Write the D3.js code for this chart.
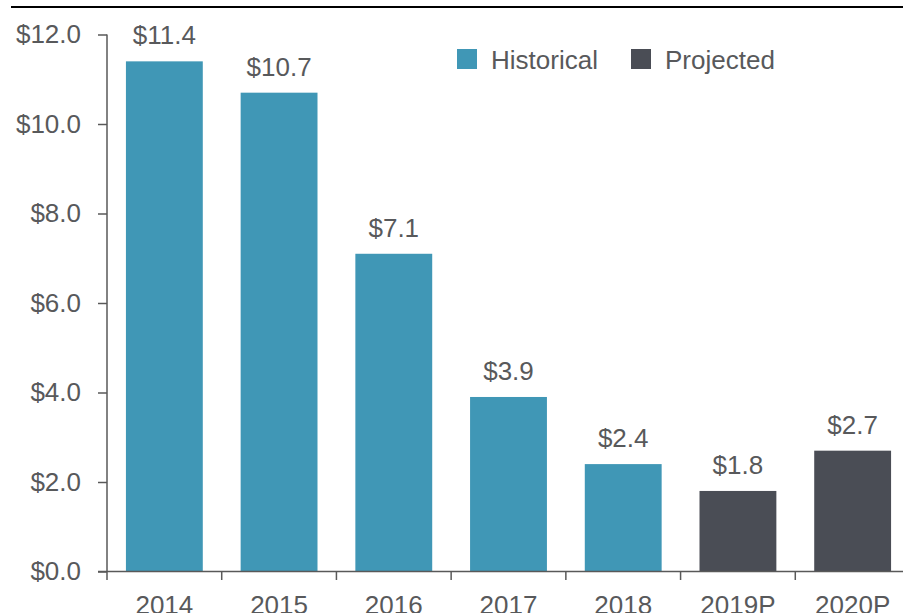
<!DOCTYPE html>
<html>
<head>
<meta charset="utf-8">
<script src="https://cdn.jsdelivr.net/npm/d3@7"></script>
<style>
  html, body { margin: 0; padding: 0; background: #fff; }
  svg { display: block; }
  text { font-family: "Liberation Sans", Arial, sans-serif; fill: #58595b; }
</style>
</head>
<body>
<div id="chart"></div>
<script>
// data
var years = ['2014', '2015', '2016', '2017', '2018', '2019P', '2020P'];
var values = [11.4, 10.7, 7.1, 3.9, 2.4, 1.8, 2.7];
var kinds = ['Historical', 'Historical', 'Historical', 'Historical', 'Historical', 'Projected', 'Projected'];
var yTicks = [0, 2, 4, 6, 8, 10, 12];
var legendItems = ['Historical', 'Projected'];

var W = 903, H = 613,
    FONT = 26,
    AXIS = '#595959',
    colors = { Historical: '#4097b6', Projected: '#4a4d55' };

var svg = d3.select('#chart').append('svg')
  .attr('width', W)
  .attr('height', H);

var x = d3.scaleBand()
  .domain(years)
  .range([107, 910])
  .paddingInner(0.33)
  .paddingOuter(0.165);

var y = d3.scaleLinear()
  .domain([0, 12])
  .range([571.5, 34.5]);

// top rule
svg.append('line')
  .attr('x1', 11).attr('x2', W)
  .attr('y1', 7).attr('y2', 7)
  .attr('stroke', '#000').attr('stroke-width', 2);

// bars
svg.selectAll('.bar')
  .data(years)
  .enter().append('rect')
  .attr('class', 'bar')
  .attr('x', function (d) { return x(d); })
  .attr('width', x.bandwidth())
  .attr('y', function (d, i) { return y(values[i]); })
  .attr('height', function (d, i) { return y(0) - y(values[i]); })
  .attr('fill', function (d, i) { return colors[kinds[i]]; });

// value labels
svg.selectAll('.val')
  .data(years)
  .enter().append('text')
  .attr('class', 'val')
  .attr('x', function (d) { return x(d) + x.bandwidth() / 2; })
  .attr('y', function (d, i) { return y(values[i]) - 17; })
  .attr('text-anchor', 'middle')
  .style('font-size', FONT + 'px')
  .text(function (d, i) { return '$' + values[i].toFixed(1); });

// y axis
var yAxis = svg.append('g')
  .attr('transform', 'translate(107,0)')
  .call(d3.axisLeft(y)
    .tickValues(yTicks)
    .tickSize(9)
    .tickPadding(17)
    .tickFormat(function (d) { return '$' + d.toFixed(1); }));
yAxis.select('.domain').remove();
yAxis.selectAll('line').attr('stroke', AXIS).attr('stroke-width', 1.5);
yAxis.selectAll('text')
  .style('font-size', FONT + 'px')
  .style('font-family', '"Liberation Sans", Arial, sans-serif')
  .attr('fill', '#58595b');
svg.append('line')
  .attr('x1', 107).attr('x2', 107)
  .attr('y1', y(12)).attr('y2', y(0))
  .attr('stroke', AXIS).attr('stroke-width', 1.5);

// x axis
var xAxis = svg.append('g')
  .attr('transform', 'translate(0,' + y(0) + ')')
  .call(d3.axisBottom(x).tickSize(0).tickPadding(24));
xAxis.select('.domain').remove();
xAxis.selectAll('text')
  .style('font-size', FONT + 'px')
  .style('font-family', '"Liberation Sans", Arial, sans-serif')
  .attr('fill', '#58595b');
svg.append('line')
  .attr('x1', 98).attr('x2', W)
  .attr('y1', y(0)).attr('y2', y(0))
  .attr('stroke', AXIS).attr('stroke-width', 1.5);

// category boundary ticks
var gap = x.step() * x.paddingInner() / 2;
svg.selectAll('.xtick')
  .data(years)
  .enter().append('line')
  .attr('class', 'xtick')
  .attr('x1', function (d) { return x(d) - gap; })
  .attr('x2', function (d) { return x(d) - gap; })
  .attr('y1', y(0)).attr('y2', y(0) + 8.5)
  .attr('stroke', AXIS).attr('stroke-width', 1.5);

// legend
var legend = svg.selectAll('.legend')
  .data(legendItems)
  .enter().append('g')
  .attr('class', 'legend')
  .attr('transform', function (d, i) { return 'translate(' + [457, 631][i] + ',49)'; });
legend.append('rect')
  .attr('width', 20).attr('height', 20)
  .attr('fill', function (d) { return colors[d]; });
legend.append('text')
  .attr('x', 34).attr('y', 20)
  .style('font-size', FONT + 'px')
  .text(function (d) { return d; });
</script>
</body>
</html>
